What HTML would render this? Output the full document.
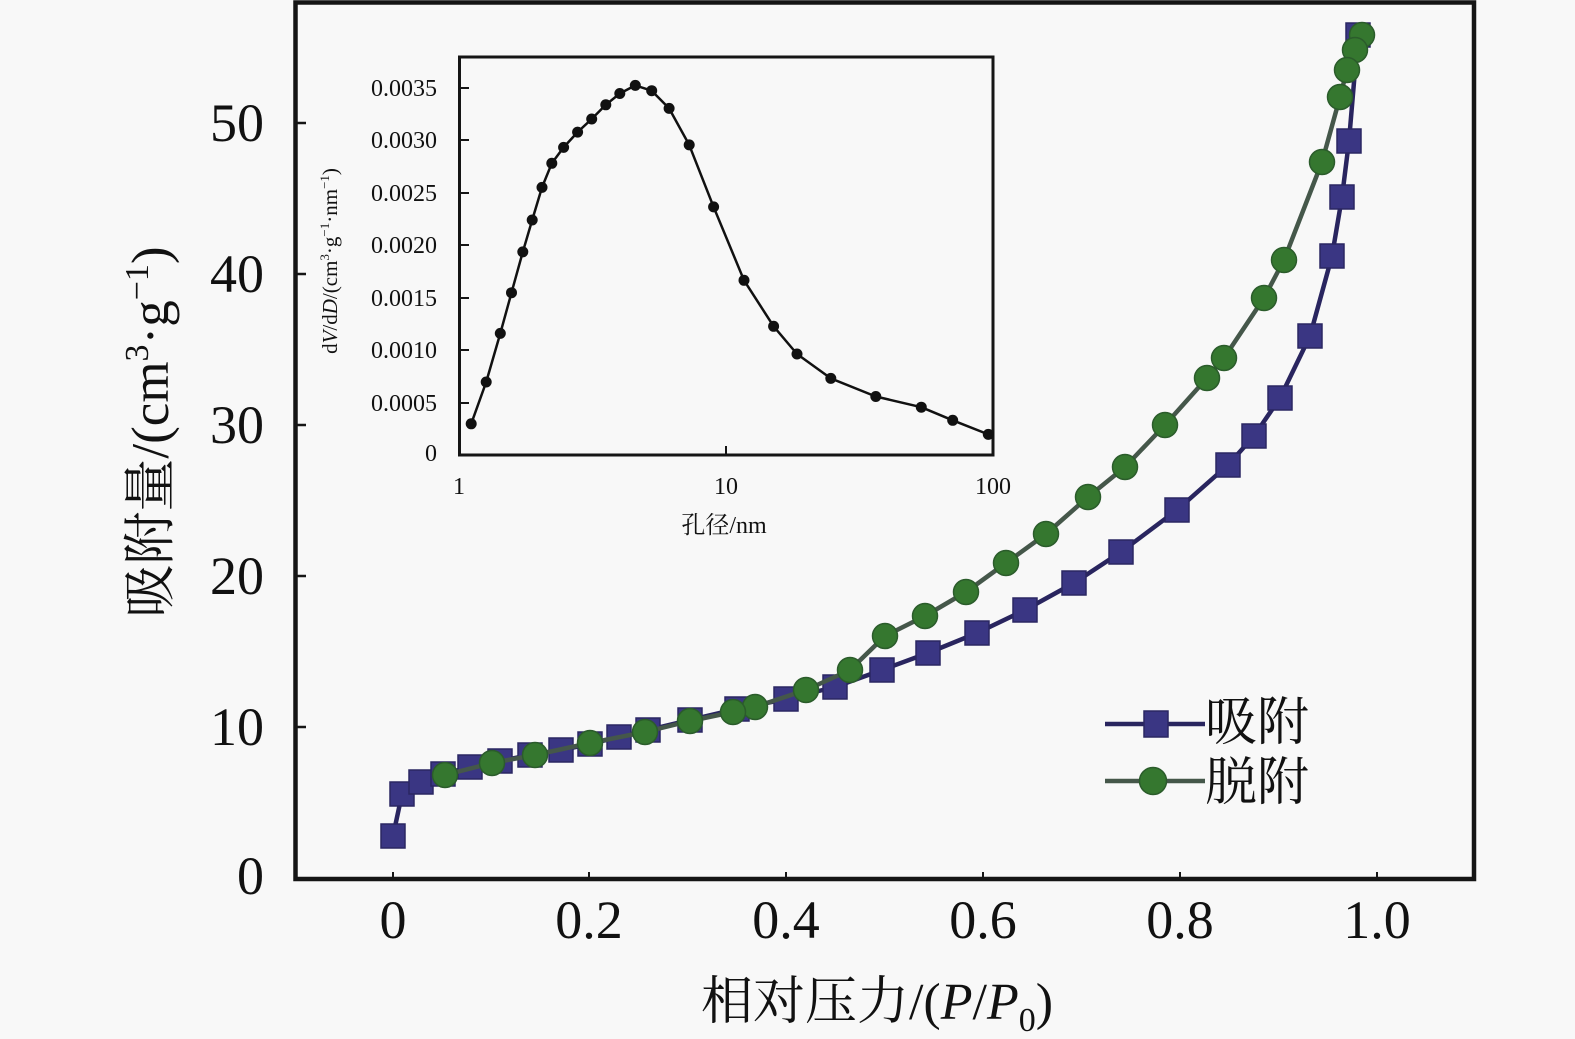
<!DOCTYPE html>
<html>
<head>
<meta charset="utf-8">
<style>
html,body{margin:0;padding:0;background:#f8f8f8;}
svg{display:block;}
text{font-family:"Liberation Serif","Noto Serif CJK SC","Noto Sans CJK SC",serif;fill:#111;}
.cjk{font-family:"Liberation Serif","Noto Serif CJK SC","Noto Sans CJK SC",serif;}
</style>
</head>
<body>
<svg width="1575" height="1039" viewBox="0 0 1575 1039" xmlns="http://www.w3.org/2000/svg">
<rect x="0" y="0" width="1575" height="1039" fill="#f8f8f8"/>

<!-- main frame -->
<rect x="295.5" y="2.5" width="1178.5" height="876.5" fill="none" stroke="#151515" stroke-width="4.5"/>

<!-- x ticks -->
<g stroke="#151515" stroke-width="2">
<line x1="393" y1="879" x2="393" y2="872"/>
<line x1="589" y1="879" x2="589" y2="872"/>
<line x1="786" y1="879" x2="786" y2="872"/>
<line x1="983" y1="879" x2="983" y2="872"/>
<line x1="1180" y1="879" x2="1180" y2="872"/>
<line x1="1377" y1="879" x2="1377" y2="872"/>
</g>
<!-- y ticks -->
<g stroke="#151515" stroke-width="2.5">
<line x1="297" y1="727" x2="306" y2="727"/>
<line x1="297" y1="576" x2="306" y2="576"/>
<line x1="297" y1="425" x2="306" y2="425"/>
<line x1="297" y1="274" x2="306" y2="274"/>
<line x1="297" y1="123" x2="306" y2="123"/>
</g>

<!-- x tick labels -->
<g font-size="54" text-anchor="middle">
<text x="393" y="938">0</text>
<text x="589" y="938">0.2</text>
<text x="786" y="938">0.4</text>
<text x="983" y="938">0.6</text>
<text x="1180" y="938">0.8</text>
<text x="1377" y="938">1.0</text>
</g>
<!-- y tick labels -->
<g font-size="54" text-anchor="end">
<text x="264" y="894">0</text>
<text x="264" y="745">10</text>
<text x="264" y="594">20</text>
<text x="264" y="443">30</text>
<text x="264" y="292">40</text>
<text x="264" y="141">50</text>
</g>

<!-- x title -->
<text x="877" y="1019" font-size="52" text-anchor="middle">相对压力/(<tspan font-style="italic">P</tspan>/<tspan font-style="italic">P</tspan><tspan font-size="34" dy="12">0</tspan><tspan dy="-12">)</tspan></text>

<!-- y title -->
<text transform="translate(168,432) rotate(-90)" font-size="53" text-anchor="middle">吸附量/(cm<tspan font-size="34" dy="-20">3</tspan><tspan dy="20">·g</tspan><tspan font-size="34" dy="-20">−1</tspan><tspan dy="20">)</tspan></text>

<!-- adsorption -->
<polyline fill="none" stroke="#29255f" stroke-width="4.5" stroke-linejoin="round"
points="393,836 402,794 421,782 443,774 470,767 500,761 530,755 561,750 590,744 619,737 648,730 690,720 737,709 786,699 835,687 882,670 928,653 977,633 1025,610 1074,583 1121,552 1177,510 1228,465 1254,436 1280,398 1310,336 1332,256 1342,197 1349,141 1358,35"/>
<g fill="#3a3683" stroke="#2a2762" stroke-width="1.5">
<rect x="381" y="824" width="24" height="24"/>
<rect x="390" y="782" width="24" height="24"/>
<rect x="409" y="770" width="24" height="24"/>
<rect x="431" y="762" width="24" height="24"/>
<rect x="458" y="755" width="24" height="24"/>
<rect x="488" y="749" width="24" height="24"/>
<rect x="518" y="743" width="24" height="24"/>
<rect x="549" y="738" width="24" height="24"/>
<rect x="578" y="732" width="24" height="24"/>
<rect x="607" y="725" width="24" height="24"/>
<rect x="636" y="718" width="24" height="24"/>
<rect x="678" y="708" width="24" height="24"/>
<rect x="725" y="697" width="24" height="24"/>
<rect x="774" y="687" width="24" height="24"/>
<rect x="823" y="675" width="24" height="24"/>
<rect x="870" y="658" width="24" height="24"/>
<rect x="916" y="641" width="24" height="24"/>
<rect x="965" y="621" width="24" height="24"/>
<rect x="1013" y="598" width="24" height="24"/>
<rect x="1062" y="571" width="24" height="24"/>
<rect x="1109" y="540" width="24" height="24"/>
<rect x="1165" y="498" width="24" height="24"/>
<rect x="1216" y="453" width="24" height="24"/>
<rect x="1242" y="424" width="24" height="24"/>
<rect x="1268" y="386" width="24" height="24"/>
<rect x="1298" y="324" width="24" height="24"/>
<rect x="1320" y="244" width="24" height="24"/>
<rect x="1330" y="185" width="24" height="24"/>
<rect x="1337" y="129" width="24" height="24"/>
<rect x="1346" y="23" width="24" height="24"/>
</g>

<!-- desorption -->
<polyline fill="none" stroke="#45574a" stroke-width="4.5" stroke-linejoin="round"
points="1362,35 1355,50 1347,70 1340,97 1322,162 1284,260 1264,298 1224,358 1207,378 1165,425 1125,467 1088,497 1046,534 1006,563 966,592 925,616 885,636 850,670 806,690 755,707 733,712 690,721 645,732 590,743 535,755 492,763 445,775"/>
<g fill="#35772f" stroke="#2b5c2b" stroke-width="1.5">
<circle cx="1362" cy="35" r="12.5"/>
<circle cx="1355" cy="50" r="12.5"/>
<circle cx="1347" cy="70" r="12.5"/>
<circle cx="1340" cy="97" r="12.5"/>
<circle cx="1322" cy="162" r="12.5"/>
<circle cx="1284" cy="260" r="12.5"/>
<circle cx="1264" cy="298" r="12.5"/>
<circle cx="1224" cy="358" r="12.5"/>
<circle cx="1207" cy="378" r="12.5"/>
<circle cx="1165" cy="425" r="12.5"/>
<circle cx="1125" cy="467" r="12.5"/>
<circle cx="1088" cy="497" r="12.5"/>
<circle cx="1046" cy="534" r="12.5"/>
<circle cx="1006" cy="563" r="12.5"/>
<circle cx="966" cy="592" r="12.5"/>
<circle cx="925" cy="616" r="12.5"/>
<circle cx="885" cy="636" r="12.5"/>
<circle cx="850" cy="670" r="12.5"/>
<circle cx="806" cy="690" r="12.5"/>
<circle cx="755" cy="707" r="12.5"/>
<circle cx="733" cy="712" r="12.5"/>
<circle cx="690" cy="721" r="12.5"/>
<circle cx="645" cy="732" r="12.5"/>
<circle cx="590" cy="743" r="12.5"/>
<circle cx="535" cy="755" r="12.5"/>
<circle cx="492" cy="763" r="12.5"/>
<circle cx="445" cy="775" r="12.5"/>
</g>

<!-- legend -->
<line x1="1105" y1="724" x2="1205" y2="724" stroke="#29255f" stroke-width="4.5"/>
<rect x="1144" y="711" width="24" height="26" fill="#3a3683" stroke="#2a2762" stroke-width="1.5"/>
<text x="1205" y="740" font-size="52" class="cjk">吸附</text>
<line x1="1105" y1="781" x2="1205" y2="781" stroke="#45574a" stroke-width="4.5"/>
<circle cx="1153" cy="781" r="13.5" fill="#35772f" stroke="#2b5c2b" stroke-width="1.5"/>
<text x="1205" y="800" font-size="52" class="cjk">脱附</text>

<!-- inset -->
<rect x="459.5" y="57" width="533.5" height="398" fill="#f8f8f8" stroke="#151515" stroke-width="3"/>
<g stroke="#151515" stroke-width="2">
<line x1="461" y1="88" x2="469" y2="88"/>
<line x1="461" y1="140" x2="469" y2="140"/>
<line x1="461" y1="193" x2="469" y2="193"/>
<line x1="461" y1="245" x2="469" y2="245"/>
<line x1="461" y1="298" x2="469" y2="298"/>
<line x1="461" y1="350" x2="469" y2="350"/>
<line x1="461" y1="403" x2="469" y2="403"/>
<line x1="726" y1="454" x2="726" y2="446"/>
</g>
<g font-size="24" text-anchor="end">
<text x="437" y="96">0.0035</text>
<text x="437" y="148">0.0030</text>
<text x="437" y="201">0.0025</text>
<text x="437" y="253">0.0020</text>
<text x="437" y="306">0.0015</text>
<text x="437" y="358">0.0010</text>
<text x="437" y="411">0.0005</text>
<text x="437" y="461">0</text>
</g>
<g font-size="24" text-anchor="middle">
<text x="459" y="494">1</text>
<text x="726" y="494">10</text>
<text x="993" y="494">100</text>
<text x="724" y="533">孔径/nm</text>
</g>
<text transform="translate(337,261) rotate(-90)" font-size="21" text-anchor="middle">d<tspan font-style="italic">V</tspan>/d<tspan font-style="italic">D</tspan>/(cm<tspan font-size="13" dy="-8">3</tspan><tspan dy="8">·g</tspan><tspan font-size="13" dy="-8">−1</tspan><tspan dy="8">·nm</tspan><tspan font-size="13" dy="-8">−1</tspan><tspan dy="8">)</tspan></text>

<polyline fill="none" stroke="#111" stroke-width="2.5" stroke-linejoin="round"
points="471.2,423.8 486.2,382 500.3,333.4 511.5,292.7 522.8,251.9 532.2,220 542,187.4 551.8,163.3 563.6,147.4 577.6,132.1 591.7,119 605.8,104.8 619.8,93.5 635.3,85.4 651.7,90.7 669.1,108.4 689.2,144.9 713.6,206.9 744,280.3 773.6,326.3 797,354 830.8,378.4 875.8,396.5 921.3,407.2 952.7,420.3 988.3,434.4"/>
<g fill="#111">
<circle cx="471.2" cy="423.8" r="5.5"/>
<circle cx="486.2" cy="382" r="5.5"/>
<circle cx="500.3" cy="333.4" r="5.5"/>
<circle cx="511.5" cy="292.7" r="5.5"/>
<circle cx="522.8" cy="251.9" r="5.5"/>
<circle cx="532.2" cy="220" r="5.5"/>
<circle cx="542" cy="187.4" r="5.5"/>
<circle cx="551.8" cy="163.3" r="5.5"/>
<circle cx="563.6" cy="147.4" r="5.5"/>
<circle cx="577.6" cy="132.1" r="5.5"/>
<circle cx="591.7" cy="119" r="5.5"/>
<circle cx="605.8" cy="104.8" r="5.5"/>
<circle cx="619.8" cy="93.5" r="5.5"/>
<circle cx="635.3" cy="85.4" r="5.5"/>
<circle cx="651.7" cy="90.7" r="5.5"/>
<circle cx="669.1" cy="108.4" r="5.5"/>
<circle cx="689.2" cy="144.9" r="5.5"/>
<circle cx="713.6" cy="206.9" r="5.5"/>
<circle cx="744" cy="280.3" r="5.5"/>
<circle cx="773.6" cy="326.3" r="5.5"/>
<circle cx="797" cy="354" r="5.5"/>
<circle cx="830.8" cy="378.4" r="5.5"/>
<circle cx="875.8" cy="396.5" r="5.5"/>
<circle cx="921.3" cy="407.2" r="5.5"/>
<circle cx="952.7" cy="420.3" r="5.5"/>
<circle cx="988.3" cy="434.4" r="5.5"/>
</g>
</svg>
</body>
</html>
